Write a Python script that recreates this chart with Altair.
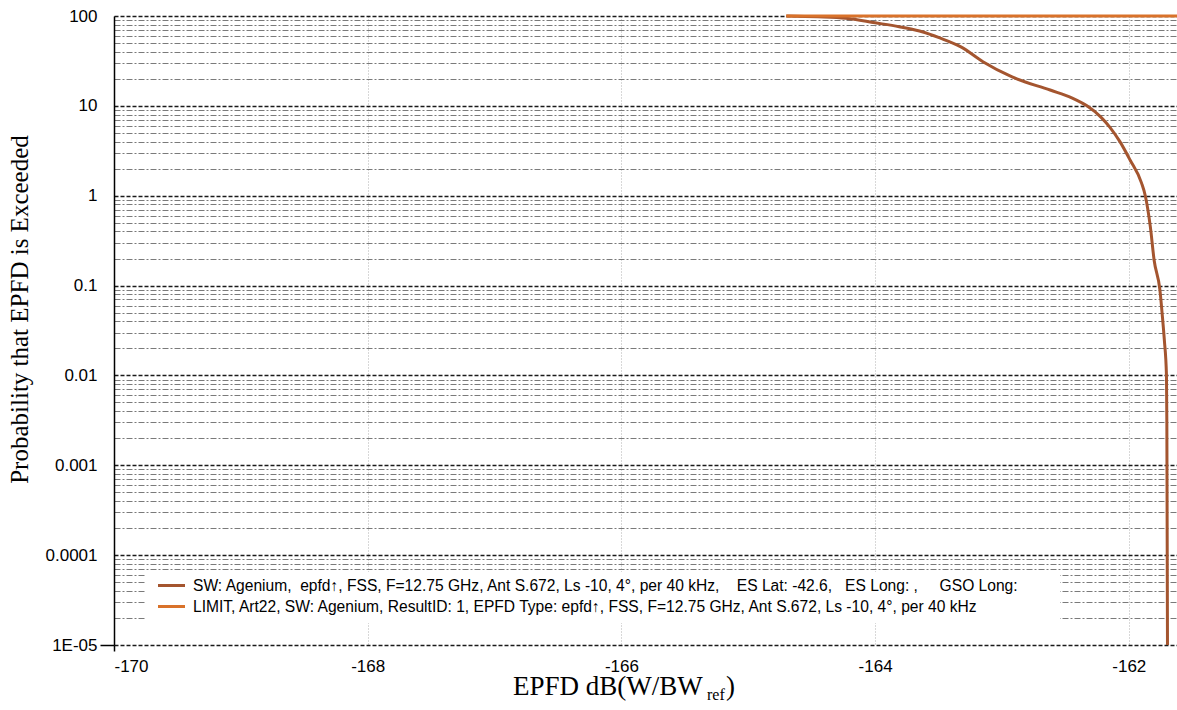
import altair as alt
import pandas as pd

# EPFD exceedance curve (dB(W/BWref) vs. % of time exceeded)
sw_epfd = [-164.70, -164.45, -164.23, -164.00, -163.81, -163.65, -163.49, -163.32,
           -163.15, -162.92, -162.62, -162.45, -162.33, -162.22, -162.15, -162.07,
           -161.99, -161.90, -161.87, -161.83, -161.80, -161.755, -161.735, -161.72,
           -161.703, -161.700, -161.698, -161.695]
sw_prob = [100, 98, 94.3, 84, 76, 68, 57, 45,
           31, 21, 15, 12.3, 10, 7.5, 5.8, 4.0,
           2.5, 1.39, 1.0, 0.45, 0.19, 0.09, 0.045, 0.025,
           0.01, 0.003, 0.0003, 0.00001]

# Article 22 limit
limit_epfd = [-164.70, -161.62]
limit_prob = [100, 100]

series_names = [
    "SW: Agenium,\u00a0 epfd\u2191, FSS, F=12.75 GHz, Ant S.672, Ls -10, 4\u00b0, per 40 kHz,"
    "\u00a0\u00a0\u00a0\u00a0ES Lat: -42.6,\u00a0\u00a0 ES Long: ,\u00a0\u00a0\u00a0\u00a0 GSO Long:",
    "LIMIT, Art22, SW: Agenium, ResultID: 1, EPFD Type: epfd\u2191, FSS, F=12.75 GHz, "
    "Ant S.672, Ls -10, 4\u00b0, per 40 kHz",
]
series_colors = ["#A4552F", "#D9722A"]

x_ticks = [-170, -168, -166, -164, -162]
decades = [1e-05, 1e-04, 1e-03, 1e-02, 1e-01, 1, 10, 100]
decade_labels = ["1E-05", "0.0001", "0.001", "0.01", "0.1", "1", "10", "100"]

# every 1..9 multiple inside each decade gets a grid line
y_ticks = []
for d in decades[:-1]:
    for m in range(1, 10):
        y_ticks.append(float(f"{m * d:.6g}"))
y_ticks.append(100.0)

W, H = 1063, 629

rows = []
for i, (x, p) in enumerate(zip(sw_epfd, sw_prob)):
    rows.append({"epfd": x, "prob": p, "series": series_names[0], "idx": i})
for i, (x, p) in enumerate(zip(limit_epfd, limit_prob)):
    rows.append({"epfd": x, "prob": p, "series": series_names[1], "idx": i})
df = pd.DataFrame(rows)

is_decade = "abs(log(datum.value)/LN10 - round(log(datum.value)/LN10)) < 1e-6"
label_expr = ""
for v, lab in zip(decades, decade_labels):
    label_expr += f"abs(log(datum.value/{v})) < 1e-6 ? '{lab}' : "
label_expr += "''"

x_axis = alt.Axis(
    values=x_ticks,
    labelExpr="'' + datum.value",
    domain=False,
    grid=True,
    gridColor="#b0b0b0",
    gridDash=[1, 2],
    gridWidth=1,
    ticks=True,
    tickSize=6,
    tickWidth=1.5,
    tickColor={"condition": {"test": "datum.value == -170", "value": "black"}, "value": "transparent"},
    labelFont="Liberation Sans",
    labelFontSize=17,
    labelColor="black",
    labelPadding=7,
    title=None,
)

y_axis = alt.Axis(
    values=y_ticks,
    labelExpr=label_expr,
    domain=True,
    domainColor="black",
    domainWidth=1.5,
    grid=True,
    gridColor={"condition": {"test": is_decade, "value": "#1a1a1a"}, "value": "#7a7a7a"},
    gridDash={"condition": {"test": is_decade, "value": [4, 2]}, "value": [6, 2, 2, 2]},
    gridWidth={"condition": {"test": is_decade, "value": 1.4}, "value": 1},
    ticks=True,
    tickSize=14,
    tickWidth=1.5,
    tickColor={"condition": {"test": "abs(log(datum.value/1e-05)) < 1e-6", "value": "black"},
               "value": "transparent"},
    labelFont="Liberation Sans",
    labelFontSize=17,
    labelColor="black",
    labelPadding=3,
    labelOverlap=False,
    labelBound=False,
    title="Probability that EPFD is Exceeded",
    titleFont="Liberation Serif",
    titleFontSize=25,
    titleFontWeight="normal",
    titleColor="black",
    titleAngle=270,
    titleAlign="center",
    titleBaseline="alphabetic",
    titleX=-87,
    titleY=293,
)

x_enc = alt.X("epfd:Q", scale=alt.Scale(domain=[-170, -161.62], nice=False, zero=False), axis=x_axis)
y_enc = alt.Y("prob:Q", scale=alt.Scale(type="log", domain=[1e-05, 100], nice=False), axis=y_axis)

curves = alt.Chart(df).mark_line(strokeWidth=3.0, clip=False, interpolate="monotone").encode(
    x=x_enc,
    y=y_enc,
    color=alt.Color(
        "series:N",
        scale=alt.Scale(domain=series_names, range=series_colors),
        sort=series_names,
        title=None,
        legend=alt.Legend(
            orient="none",
            legendX=46,
            legendY=558,
            padding=0,
            rowPadding=0,
            symbolType="M-1.35,0H1.35",
            symbolSize=400,
            symbolStrokeWidth=3,
            labelFont="Liberation Sans",
            labelFontSize=15.6,
            labelColor="black",
            labelLimit=2000,
            labelOffset=10,
        ),
    ),
    order=alt.Order("idx:Q"),
)

# white panel that the legend sits on
legend_panel = alt.Chart(pd.DataFrame({"k": [0]})).mark_rect(color="white").encode(
    x=alt.value(31), x2=alt.value(946), y=alt.value(556), y2=alt.value(607)
)

# x-axis title with a subscripted "ref"
title_parts = ["EPFD dB(W/BW", "ref", ")"]
t1 = alt.Chart(pd.DataFrame({"t": [title_parts[0]]})).mark_text(
    font="Liberation Serif", fontSize=27, align="left", baseline="alphabetic", color="black"
).encode(text="t:N", x=alt.value(399), y=alt.value(679))
t2 = alt.Chart(pd.DataFrame({"t": [title_parts[1]]})).mark_text(
    font="Liberation Serif", fontSize=16, align="left", baseline="alphabetic", color="black"
).encode(text="t:N", x=alt.value(593), y=alt.value(684))
t3 = alt.Chart(pd.DataFrame({"t": [title_parts[2]]})).mark_text(
    font="Liberation Serif", fontSize=27, align="left", baseline="alphabetic", color="black"
).encode(text="t:N", x=alt.value(612), y=alt.value(679))

chart = alt.layer(legend_panel, curves, t1, t2, t3).properties(
    width=W,
    height=H,
    autosize=alt.AutoSizeParams(type="none"),
    padding={"left": 114, "top": 16, "right": 0, "bottom": 65},
    background="white",
).configure_view(stroke=None)

chart.save("out.html", embed_options={"renderer": "svg", "actions": False})
